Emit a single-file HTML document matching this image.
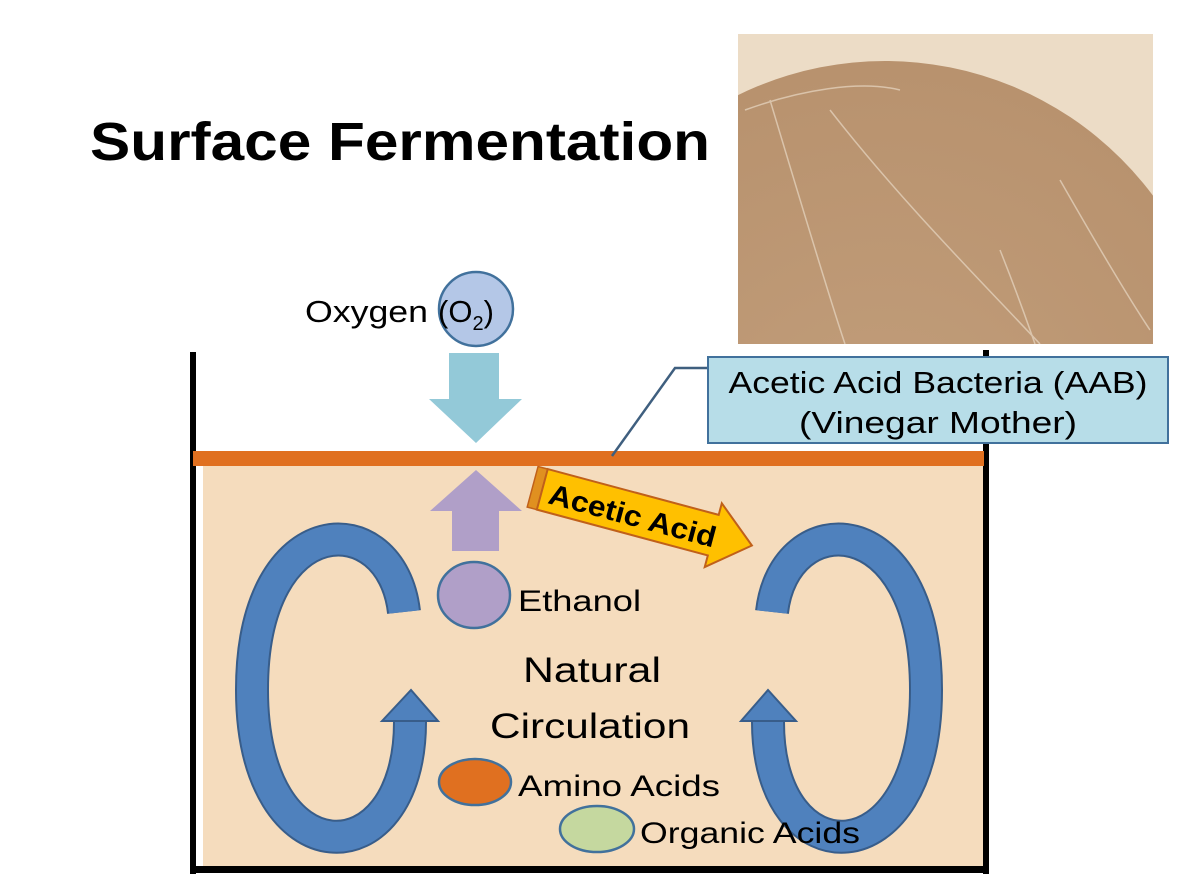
<!DOCTYPE html>
<html><head><meta charset="utf-8"><style>
html,body{margin:0;padding:0;background:#fff;}
svg{display:block;font-family:"Liberation Sans","DejaVu Sans",sans-serif;}
</style></head><body>
<svg width="1195" height="896" viewBox="0 0 1195 896" xmlns="http://www.w3.org/2000/svg">
<defs>
<clipPath id="ph"><rect x="738" y="34" width="415" height="310"/></clipPath>
<radialGradient id="dome" cx="0.5" cy="0.6" r="0.6">
<stop offset="0" stop-color="#c29e7b"/><stop offset="1" stop-color="#b8926e"/>
</radialGradient>
</defs>
<text x="90" y="160" font-size="54" font-weight="bold" textLength="620" lengthAdjust="spacingAndGlyphs">Surface Fermentation</text>
<g clip-path="url(#ph)">
<rect x="738" y="34" width="415" height="310" fill="#ecdcc6"/>
<circle cx="885" cy="395" r="334" fill="url(#dome)"/>
<g stroke="#e8d8c4" stroke-width="1.5" fill="none" opacity="0.7">
<path d="M770 100 C800 200 830 300 845 344"/>
<path d="M830 110 C900 200 980 280 1040 344"/>
<path d="M1060 180 C1100 250 1130 300 1150 330"/>
<path d="M745 110 C800 90 860 80 900 90"/>
<path d="M1000 250 C1020 300 1030 330 1035 344"/>
</g>
</g>
<rect x="203" y="465" width="782" height="402" fill="#f5dcbd"/>
<rect x="190" y="352" width="6" height="522" fill="#000"/>
<rect x="983" y="350" width="6" height="524" fill="#000"/>
<rect x="190" y="866" width="799" height="7" fill="#000"/>
<rect x="193" y="451" width="791" height="15" fill="#e07020"/>
<polyline points="710,368 675,368 612,456" fill="none" stroke="#3f5f7f" stroke-width="2.5"/>
<rect x="708" y="357" width="460" height="86" fill="#b7dde8" stroke="#41719c" stroke-width="2"/>
<text x="938" y="393" font-size="31" text-anchor="middle" textLength="419" lengthAdjust="spacingAndGlyphs">Acetic Acid Bacteria (AAB)</text>
<text x="938" y="433" font-size="31" text-anchor="middle" textLength="278" lengthAdjust="spacingAndGlyphs">(Vinegar Mother)</text>
<circle cx="476" cy="309" r="37" fill="#b4c7e7" stroke="#41719c" stroke-width="2.5"/>
<text x="305" y="322" font-size="31" textLength="123" lengthAdjust="spacingAndGlyphs">Oxygen</text>
<text x="438" y="322" font-size="31">(O<tspan font-size="20" dy="8">2</tspan><tspan dy="-8">)</tspan></text>
<polygon points="449,353 499,353 499,399 522,399 476,443 429,399 449,399" fill="#93c9d8"/>
<polygon points="476,470 522,511 499,511 499,551 452,551 452,511 430,511" fill="#b09fc8"/>
<g transform="translate(540,467) rotate(15)">
<rect x="-2" y="0" width="10" height="42" fill="#e09020" stroke="#c0601a" stroke-width="1.5"/>
<polygon points="8,0 185,0 185,-12 225,21 185,54 185,42 8,42" fill="#ffc000" stroke="#c0601a" stroke-width="2"/>
<text x="16" y="33" font-size="29" font-weight="bold" textLength="172" lengthAdjust="spacingAndGlyphs">Acetic Acid</text>
</g>
<g fill="none">
<path d="M404 612 C392 505 252 505 252 690 C252 880 410 880 410 722" stroke="#385d8a" stroke-width="34"/>
<path d="M404 612 C392 505 252 505 252 690 C252 880 410 880 410 722" stroke="#4f81bd" stroke-width="30"/>
<path d="M772 612 C784 505 926 505 926 690 C926 880 768 880 768 722" stroke="#385d8a" stroke-width="34"/>
<path d="M772 612 C784 505 926 505 926 690 C926 880 768 880 768 722" stroke="#4f81bd" stroke-width="30"/>
</g>
<polygon points="382,721 411,690 438,721" fill="#4f81bd" stroke="#385d8a" stroke-width="2"/>
<polygon points="741,721 768,690 796,721" fill="#4f81bd" stroke="#385d8a" stroke-width="2"/>
<ellipse cx="474" cy="595" rx="36" ry="33" fill="#b09fc8" stroke="#41719c" stroke-width="2.5"/>
<text x="518" y="611" font-size="30" textLength="123" lengthAdjust="spacingAndGlyphs">Ethanol</text>
<text x="592" y="682" font-size="35" text-anchor="middle" textLength="138" lengthAdjust="spacingAndGlyphs">Natural</text>
<text x="590" y="738" font-size="35" text-anchor="middle" textLength="200" lengthAdjust="spacingAndGlyphs">Circulation</text>
<ellipse cx="475" cy="782" rx="36" ry="23" fill="#e07020" stroke="#41719c" stroke-width="2.5"/>
<text x="518" y="796" font-size="30" textLength="202" lengthAdjust="spacingAndGlyphs">Amino Acids</text>
<ellipse cx="597" cy="829" rx="37" ry="23" fill="#c5d89f" stroke="#41719c" stroke-width="2.5"/>
<text x="640" y="843" font-size="30" textLength="220" lengthAdjust="spacingAndGlyphs">Organic Acids</text>
</svg>
</body></html>
